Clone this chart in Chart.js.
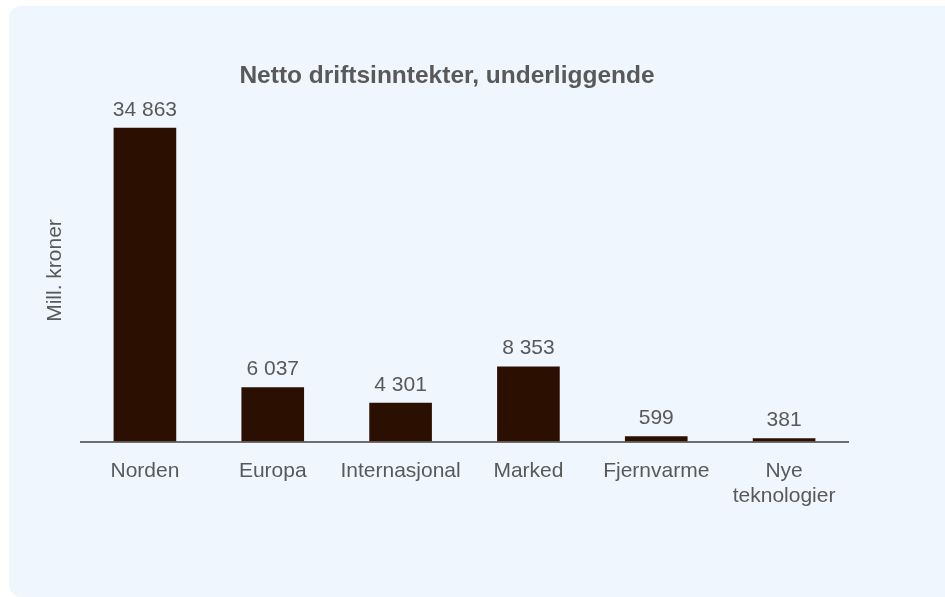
<!DOCTYPE html>
<html lang="no">
<head>
<meta charset="utf-8">
<title>Netto driftsinntekter, underliggende</title>
<script src="https://cdn.jsdelivr.net/npm/chart.js@4/dist/chart.umd.min.js"></script>
<style>
  html, body { margin: 0; padding: 0; background: #ffffff; overflow: hidden; }
  body { width: 945px; height: 597px; position: relative; }
  .panel {
    position: absolute; left: 9px; top: 6px;
    width: 960px; height: 591px;
    background: #eff6fd;
    border-radius: 12px;
  }
  #chart { position: absolute; left: 0; top: 0; }
</style>
</head>
<body>
<div class="panel">
  <canvas id="chart" width="876" height="591"></canvas>
</div>
<script>
const categories = ['Norden', 'Europa', 'Internasjonal', 'Marked', 'Fjernvarme', ['Nye', 'teknologier']];
const values = [34863, 6037, 4301, 8353, 599, 381];

const textColor = '#595959';
const barColor = '#2b0f00';
const fontFamily = 'Arial, "Liberation Sans", sans-serif';

// "34 863" style grouping
const fmt = v => String(v).replace(/\B(?=(\d{3})+(?!\d))/g, ' ');

const valueLabels = {
  id: 'valueLabels',
  afterDatasetsDraw(chart) {
    const {ctx} = chart;
    const meta = chart.getDatasetMeta(0);
    ctx.save();
    ctx.font = '21px ' + fontFamily;
    ctx.fillStyle = textColor;
    ctx.textAlign = 'center';
    ctx.textBaseline = 'alphabetic';
    meta.data.forEach((bar, i) => {
      ctx.fillText(fmt(values[i]), bar.x, bar.y - 12);
    });
    ctx.restore();
  }
};

new Chart(document.getElementById('chart'), {
  type: 'bar',
  data: {
    labels: categories,
    datasets: [{
      data: values,
      backgroundColor: barColor,
      borderWidth: 0,
      barPercentage: 0.49,
      categoryPercentage: 1
    }]
  },
  options: {
    responsive: false,
    animation: false,
    // symmetric side padding keeps the title centred on the canvas
    layout: { padding: { left: 37, right: 37, top: 0, bottom: 79 } },
    plugins: {
      legend: { display: false },
      tooltip: { enabled: false },
      title: {
        display: true,
        text: 'Netto driftsinntekter, underliggende',
        color: textColor,
        font: { family: fontFamily, size: 24.5, weight: 'bold', lineHeight: 1.2 },
        padding: { top: 56, bottom: 8 }
      }
    },
    scales: {
      x: {
        grid: { display: false },
        border: { display: true, color: '#6e6e6e', width: 2 },
        ticks: {
          color: textColor,
          font: { family: fontFamily, size: 21, lineHeight: 1.2 },
          padding: 9,
          maxRotation: 0,
          autoSkip: false
        }
      },
      y: {
        min: 0,
        max: 38000,
        grid: { display: false },
        border: { display: false },
        ticks: { display: false },
        title: {
          display: true,
          text: 'Mill. kroner',
          color: textColor,
          font: { family: fontFamily, size: 21, lineHeight: 1.2 },
          padding: { top: -3, bottom: 0 }
        },
        afterFit(scale) { scale.width = 35; }
      }
    }
  },
  plugins: [valueLabels]
});
</script>
</body>
</html>
